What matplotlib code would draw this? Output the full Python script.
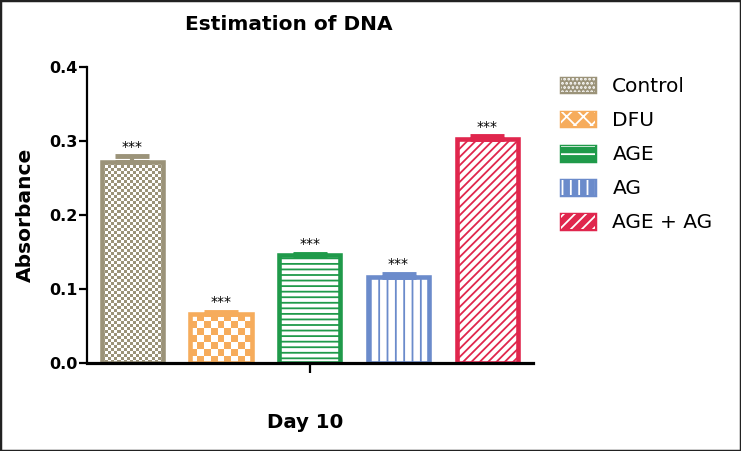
import numpy as np
import matplotlib.pyplot as plt
from matplotlib.patches import Patch, Rectangle
from matplotlib.colors import ListedColormap

plt.rcParams['font.family'] = 'DejaVu Sans'
plt.rcParams['hatch.linewidth'] = 1.3

groups = ["Control", "DFU", "AGE", "AG", "AGE + AG"]
values = [0.271, 0.0655, 0.1455, 0.1165, 0.303]
errors = [0.008, 0.0035, 0.0015, 0.0035, 0.003]
stars = ["***", "***", "***", "***", "***"]
colors = ["#9b9379", "#f6ac5c", "#1f9a4a", "#6b8bcb", "#e0264d"]
hatches = [None, None, "---", "||", "////"]
# checker cell size in pixels for the two checkered bars (None = plain hatch)
checker_px = [3, 7, None, None, None]
legend_hatch = ["....", "xx", "--", "||", "///"]

fig = plt.figure(figsize=(7.41, 4.51), dpi=100)
ax = fig.add_axes([87/741, 1 - 363/451, (533 - 87)/741, (363 - 66.7)/451])

x = np.arange(len(groups))
width = 0.69
bars = ax.bar(x, values, width, facecolor="white", edgecolor=colors,
              linewidth=3.3, zorder=2)
ax.set_xlim(-0.51, 4.515)
ax.set_ylim(0, 0.4)

for b, h, c, cp in zip(bars, hatches, colors, checker_px):
    if h is not None:
        b.set_hatch(h)
    if cp is not None:
        b.set_facecolor("none")
        x0, x1 = b.get_x(), b.get_x() + b.get_width()
        y1 = b.get_height()
        p0 = ax.transData.transform((x0, 0))
        p1 = ax.transData.transform((x1, y1))
        nx = max(1, int(round((p1[0] - p0[0]) / cp)))
        ny = max(1, int(round((p1[1] - p0[1]) / cp)))
        board = (np.add.outer(np.arange(ny), np.arange(nx)) % 2)
        im = ax.imshow(board, extent=(x0, x1, 0, y1), aspect="auto",
                       cmap=ListedColormap(["white", c]), interpolation="nearest",
                       zorder=1.5)
        im.set_clip_path(b)

ax.set_xlim(-0.51, 4.515)
ax.set_ylim(0, 0.4)

for xi, v, e, c, s in zip(x, values, errors, colors, stars):
    ax.errorbar(xi, v, yerr=[[0], [e]], fmt="none", ecolor=c, elinewidth=3,
                capsize=12, capthick=3.5, zorder=3)
    ax.annotate(s, (xi, v + e), xytext=(0, 2), textcoords="offset points",
                ha="center", va="bottom", fontsize=10)

for side in ["top", "right"]:
    ax.spines[side].set_visible(False)
ax.spines["left"].set_linewidth(1.6)
ax.spines["bottom"].set_linewidth(2.3)
ax.spines["left"].set_zorder(2.5)
ax.spines["bottom"].set_zorder(2.5)

ax.set_yticks([0.0, 0.1, 0.2, 0.3, 0.4])
ax.set_yticklabels(["0.0", "0.1", "0.2", "0.3", "0.4"], fontweight="bold", fontsize=11.5)
ax.tick_params(axis="y", length=6, width=1.6, pad=1)
ax.set_xticks([2])
ax.set_xticklabels([""])
ax.tick_params(axis="x", length=7, width=1.6)

ax.set_ylabel("Absorbance", fontsize=14.5, fontweight="bold", labelpad=10)
fig.text(305/741, 1 - 422/451, "Day 10", fontsize=14.2, fontweight="bold",
         ha="center", va="center")
fig.text(289/741, 1 - 24/451, "Estimation of DNA", fontsize=14.5, fontweight="bold",
         ha="center", va="center")

handles = []
for c, lh in zip(colors, legend_hatch):
    base = Patch(facecolor=c, edgecolor=c, linewidth=2.5, joinstyle="round")
    over = Patch(facecolor="none", edgecolor="white", hatch=lh, linewidth=0)
    handles.append((base, over))
fig.legend(handles, groups, loc="upper left", bbox_to_anchor=(561/741, 1 - 77/451),
           frameon=False, fontsize=14.5, handlelength=1.7, handleheight=0.75,
           handletextpad=0.85, labelspacing=0.75, borderpad=0, borderaxespad=0)

fig.patches.append(Rectangle((0, 0), 1, 1, transform=fig.transFigure, fill=False,
                             edgecolor="#222222", linewidth=2.5))

fig.savefig("out.png", dpi=100)
